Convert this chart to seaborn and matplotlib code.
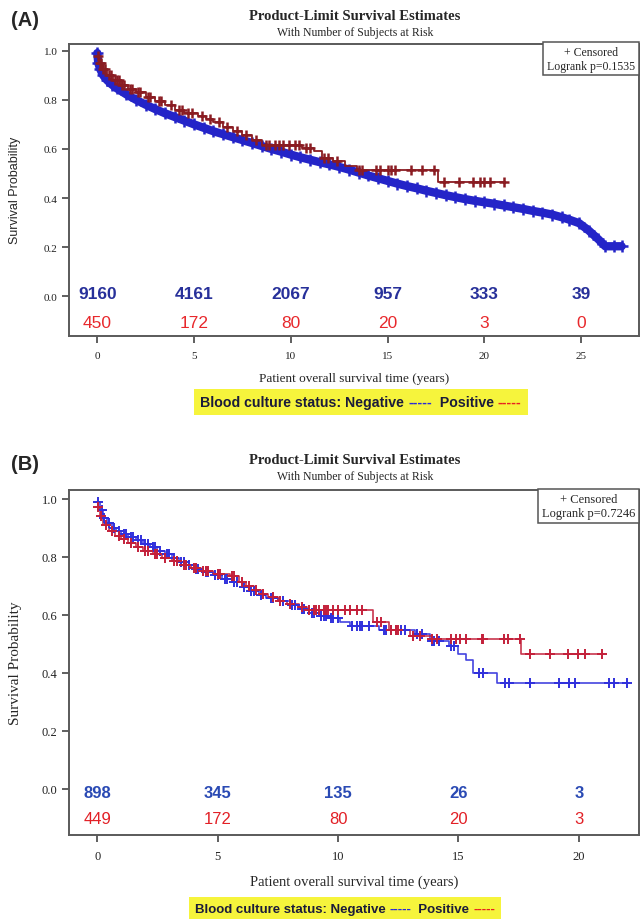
import numpy as np
import matplotlib.pyplot as plt
import seaborn as sns
from matplotlib.offsetbox import TextArea, HPacker, AnchoredOffsetbox

sns.set_theme(style="white")
plt.rcParams["font.family"] = ["Liberation Serif", "DejaVu Serif"]

SANS = "Liberation Sans"
SERIF = "Liberation Serif"

# ---------------- panel A data ----------------
a_neg_t = [0, 0.05, 0.15, 0.3, 0.5, 0.75, 1.0, 1.5, 2.0, 2.5, 3.0, 3.5, 4.0, 4.5, 5.0,
           5.5, 6.0, 6.5, 7.0, 7.5, 8.0, 8.5, 9.0, 9.5, 10.0, 10.5, 11.0, 11.5, 12.0,
           12.5, 13.0, 13.5, 14.0, 14.5, 15.0, 15.5, 16.0, 16.5, 17.0, 17.5, 18.0,
           18.5, 19.0, 19.5, 20.0, 20.5, 21.0, 21.5, 22.0, 22.5, 23.0, 23.5, 24.0,
           24.4, 24.9, 25.4, 25.9, 26.25, 26.7, 27.1]
a_neg_s = [0.99, 0.95, 0.925, 0.9, 0.88, 0.862, 0.847, 0.822, 0.8, 0.78, 0.762, 0.745,
           0.73, 0.715, 0.7, 0.686, 0.672, 0.66, 0.648, 0.636, 0.624, 0.612, 0.6, 0.589,
           0.577, 0.566, 0.556, 0.546, 0.537, 0.527, 0.516, 0.504, 0.492, 0.481, 0.47,
           0.459, 0.449, 0.44, 0.43, 0.421, 0.412, 0.404, 0.396, 0.389, 0.383, 0.377,
           0.37, 0.363, 0.356, 0.348, 0.341, 0.333, 0.322, 0.312, 0.298, 0.268, 0.232,
           0.204, 0.204, 0.204]

a_pos_t = [0, 0.1, 0.25, 0.5, 0.8, 1.2, 1.6, 2.0, 2.5, 3.0, 3.5, 4.0, 4.5, 5.2, 5.6,
           6.0, 6.5, 7.0, 7.5, 8.0, 8.5, 10.6, 11.2, 11.6, 12.2, 12.8, 13.4, 17.6, 21.0]
a_pos_s = [0.98, 0.95, 0.925, 0.9, 0.88, 0.86, 0.845, 0.83, 0.81, 0.795, 0.78, 0.76,
           0.745, 0.735, 0.72, 0.71, 0.69, 0.672, 0.655, 0.638, 0.615, 0.605, 0.59,
           0.563, 0.55, 0.53, 0.515, 0.465, 0.465]
a_pos_cens = [0.05, 0.15, 0.2, 0.3, 0.4, 0.6, 0.7, 0.9, 1.0, 1.1, 1.3, 1.4, 1.7, 1.8,
              2.1, 2.2, 2.6, 2.7, 3.2, 3.3, 3.8, 4.2, 4.4, 4.7, 4.9,
              5.4, 5.8, 6.3, 6.7, 7.2, 7.7, 8.2, 8.7, 8.9, 9.2, 9.4, 9.6, 9.9, 10.2,
              10.4, 10.8, 11.0, 11.7, 11.9, 12.4, 13.5, 13.7, 14.4, 14.6, 15.0, 15.2,
              15.4, 16.2, 16.8, 17.4, 17.9, 18.7, 19.4, 19.8, 20.0, 20.3, 21.0]

a_risk_t = [0, 5, 10, 15, 20, 25]
a_risk_neg = [9160, 4161, 2067, 957, 333, 39]
a_risk_pos = [450, 172, 80, 20, 3, 0]
a_pvalue = "0.1535"

# ---------------- panel B data ----------------
b_neg_t = [0, 0.1, 0.25, 0.4, 0.6, 0.8, 1.0, 1.3, 1.6, 1.9, 2.2, 2.5, 2.8, 3.1, 3.4,
           3.7, 4.0, 4.4, 4.8, 5.2, 5.6, 6.0, 6.3, 6.7, 7.0, 7.5, 8.0, 8.4, 8.8, 9.2,
           9.6, 10.1, 10.5, 11.7, 13.2, 13.8, 14.6, 15.0, 15.3, 15.6, 16.6, 22.0]
b_neg_s = [0.99, 0.96, 0.935, 0.915, 0.9, 0.888, 0.878, 0.868, 0.857, 0.845, 0.832,
           0.82, 0.808, 0.795, 0.783, 0.77, 0.759, 0.748, 0.738, 0.725, 0.712, 0.696,
           0.683, 0.667, 0.657, 0.648, 0.635, 0.62, 0.606, 0.597, 0.588, 0.575, 0.56,
           0.548, 0.534, 0.511, 0.494, 0.466, 0.443, 0.399, 0.364, 0.364]
b_neg_cens = [0.05, 0.2, 0.3, 0.5, 0.7, 0.9, 1.1, 1.2, 1.4, 1.5, 1.7, 1.8, 2.0, 2.1,
              2.3, 2.4, 2.6, 2.9, 3.0, 3.2, 3.5, 3.6, 3.8, 4.1, 4.2, 4.5, 4.6, 4.9,
              5.0, 5.3, 5.4, 5.7, 5.8, 6.1, 6.4, 6.5, 6.8, 7.2, 7.3, 7.7, 8.1, 8.2,
              8.5, 8.6, 8.9, 9.0, 9.3, 9.4, 9.5, 9.7, 9.8, 10.0, 10.6, 10.8, 10.9,
              11.0, 11.3, 11.9, 12.0, 12.2, 12.4, 12.6, 12.8, 13.3, 13.5, 13.9, 14.0,
              14.2, 14.7, 14.8, 15.86, 16.0, 16.93, 17.1, 17.97, 19.18, 19.6, 19.83,
              21.26, 21.45, 21.98]

b_pos_t = [0, 0.1, 0.25, 0.5, 0.75, 1.0, 1.3, 1.6, 1.9, 2.3, 2.7, 3.1, 3.5, 3.9, 4.3,
           4.8, 5.5, 5.9, 6.2, 6.5, 6.8, 7.1, 7.5, 7.9, 8.4, 8.7, 11.45, 12.1, 13.0,
           13.9, 17.6, 21.0]
b_pos_s = [0.97, 0.94, 0.91, 0.89, 0.872, 0.86, 0.848, 0.835, 0.82, 0.808, 0.797,
           0.785, 0.772, 0.762, 0.752, 0.741, 0.733, 0.713, 0.7, 0.685, 0.672, 0.66,
           0.648, 0.638, 0.627, 0.618, 0.575, 0.548, 0.527, 0.517, 0.466, 0.466]
b_pos_cens = [0.05, 0.15, 0.35, 0.6, 0.9, 1.1, 1.4, 1.7, 2.0, 2.1, 2.4, 2.5, 2.8, 3.2,
              3.3, 3.6, 3.7, 4.0, 4.1, 4.4, 4.5, 4.6, 5.0, 5.1, 5.6, 5.7, 6.0, 6.3,
              6.6, 6.9, 7.3, 7.6, 8.0, 8.5, 8.8, 9.0, 9.1, 9.2, 9.4, 9.5, 9.6, 9.8,
              10.0, 10.3, 10.5, 10.8, 11.0, 11.6, 11.8, 12.2, 12.4, 12.5, 13.1, 13.4,
              13.9, 14.1, 14.7, 14.9, 15.06, 15.3, 15.96, 16.0, 16.9, 17.07, 17.55,
              17.97, 18.8, 19.56, 19.97, 20.25, 20.94]

b_risk_t = [0, 5, 10, 15, 20]
b_risk_neg = [898, 345, 135, 26, 3]
b_risk_pos = [449, 172, 80, 20, 3]
b_pvalue = "0.7246"


def step_value(kt, ks, t):
    # value of the KM step function at time t (where the censor tick sits)
    idx = np.searchsorted(kt, t, side="right") - 1
    return np.asarray(ks)[idx]


def style_axes(ax, xlim, ylim, xticks, tick_font):
    ax.set_xlim(*xlim)
    ax.set_ylim(*ylim)
    ax.set_xticks(xticks)
    ax.set_yticks([0.0, 0.2, 0.4, 0.6, 0.8, 1.0])
    ax.set_yticklabels([f"{v:.1f}" for v in [0.0, 0.2, 0.4, 0.6, 0.8, 1.0]])
    for sp in ax.spines.values():
        sp.set_color("#5a5a5a")
        sp.set_linewidth(1.4)
    ax.tick_params(axis="both", direction="out", length=5, width=1.2, color="#444444",
                   labelsize=tick_font, labelcolor="#222222", left=True, bottom=True)
    ax.tick_params(axis="x", pad=6)


def header(fig, letter, ytop):
    fig.text(0.017, ytop - 0.004, letter, fontsize=14.5, fontweight="bold", family=SANS,
             ha="left", va="center")
    fig.text(0.554, ytop, "Product-Limit Survival Estimates", fontsize=10.5,
             fontweight="bold", family=SERIF, ha="center", va="center")
    fig.text(0.554, ytop - 0.017, "With Number of Subjects at Risk", fontsize=8.5,
             family=SERIF, ha="center", va="center")


def status_legend(fig, x, y, blue, red, size):
    kw = dict(fontsize=size, fontweight="bold", family=SANS)
    parts = [
        TextArea("Blood culture status: Negative ", textprops=dict(color="#1b1b3a", **kw)),
        TextArea("-----", textprops=dict(color=blue, **kw)),
        TextArea("  Positive ", textprops=dict(color="#1b1b3a", **kw)),
        TextArea("-----", textprops=dict(color=red, **kw)),
    ]
    pack = HPacker(children=parts, align="center", pad=0, sep=0)
    box = AnchoredOffsetbox(loc="center", child=pack, pad=0.4, frameon=True,
                            bbox_to_anchor=(x, y), bbox_transform=fig.transFigure,
                            borderpad=0)
    box.patch.set_facecolor("#f6f43c")
    box.patch.set_edgecolor("none")
    fig.add_artist(box)


fig = plt.figure(figsize=(6.41, 9.2), dpi=100)

# ================= panel A =================
axA = fig.add_axes([0.108, 0.634, 0.889, 0.3175])
blueA, redA = "#2424c8", "#8a1c22"

# negative group: thousands of censor ticks merge into one thick band
sns.lineplot(x=a_neg_t, y=a_neg_s, ax=axA, color=blueA, linewidth=6, estimator=None,
             sort=False, legend=False)
sns.scatterplot(x=a_neg_t, y=a_neg_s, ax=axA, marker="+", s=70, linewidth=1.8,
                color=blueA, legend=False, zorder=2)
sns.lineplot(x=a_pos_t, y=a_pos_s, ax=axA, color=redA, linewidth=1.3, estimator=None,
             sort=False, drawstyle="steps-post", legend=False)
sns.scatterplot(x=a_pos_cens, y=step_value(a_pos_t, a_pos_s, a_pos_cens), ax=axA,
                marker="+", s=55, linewidth=1.8, color=redA, legend=False, zorder=3)

style_axes(axA, (-1.45, 28.0), (-0.160, 1.0285), a_risk_t, 8)
axA.set_ylabel("Survival Probability", family=SANS, fontsize=9, labelpad=16)
axA.set_xlabel("Patient overall survival time (years)", family=SERIF, fontsize=9.5,
               labelpad=9)

for t, n in zip(a_risk_t, a_risk_neg):
    axA.text(t, 0.012, str(n), ha="center", va="center", family=SANS, fontsize=12.5,
             fontweight="bold", color="#27309a")
for t, n in zip(a_risk_t, a_risk_pos):
    axA.text(t, -0.106, str(n), ha="center", va="center", family=SANS, fontsize=12.5,
             color="#e8282c")

axA.text(0.993, 0.992, "+ Censored\nLogrank p=" + a_pvalue, transform=axA.transAxes,
         ha="right", va="top", multialignment="center", fontsize=8.5, family=SERIF,
         bbox=dict(boxstyle="square,pad=0.3", fc="white", ec="#555555", lw=1.1))

header(fig, "(A)", 1 - 17 / 920)
status_legend(fig, 361 / 641, 1 - 403 / 920, "#2a2ad8", "#e82020", 10.2)

# ================= panel B =================
axB = fig.add_axes([0.108, 0.0916, 0.889, 0.3743])
blueB, redB = "#3030dc", "#c3203a"

sns.lineplot(x=b_neg_t, y=b_neg_s, ax=axB, color=blueB, linewidth=1.2, estimator=None,
             sort=False, drawstyle="steps-post", legend=False, alpha=0.9)
sns.lineplot(x=b_pos_t, y=b_pos_s, ax=axB, color=redB, linewidth=1.2, estimator=None,
             sort=False, drawstyle="steps-post", legend=False, alpha=0.9)
sns.scatterplot(x=b_neg_cens, y=step_value(b_neg_t, b_neg_s, b_neg_cens), ax=axB,
                marker="+", s=60, linewidth=1.4, color=blueB, legend=False, zorder=3)
sns.scatterplot(x=b_pos_cens, y=step_value(b_pos_t, b_pos_s, b_pos_cens), ax=axB,
                marker="+", s=60, linewidth=1.4, color=redB, legend=False, zorder=3)

style_axes(axB, (-1.16, 22.5), (-0.1576, 1.0287), b_risk_t, 9)
axB.set_ylabel("Survival Probability", family=SERIF, fontsize=11, labelpad=14)
axB.set_xlabel("Patient overall survival time (years)", family=SERIF, fontsize=10.5,
               labelpad=9)

for t, n in zip(b_risk_t, b_risk_neg):
    axB.text(t, -0.0115, str(n), ha="center", va="center", family=SANS, fontsize=12,
             fontweight="bold", color="#2a4ab4")
for t, n in zip(b_risk_t, b_risk_pos):
    axB.text(t, -0.103, str(n), ha="center", va="center", family=SANS, fontsize=12,
             color="#e22026")

axB.text(0.993, 0.992, "+ Censored\nLogrank p=" + b_pvalue, transform=axB.transAxes,
         ha="right", va="top", multialignment="center", fontsize=9, family=SERIF,
         bbox=dict(boxstyle="square,pad=0.3", fc="white", ec="#555555", lw=1.1))

header(fig, "(B)", 1 - 461 / 920)
status_legend(fig, 345 / 641, 1 - 910 / 920, "#2a2ad8", "#e82020", 9.5)

fig.savefig("out.png", dpi=100)
